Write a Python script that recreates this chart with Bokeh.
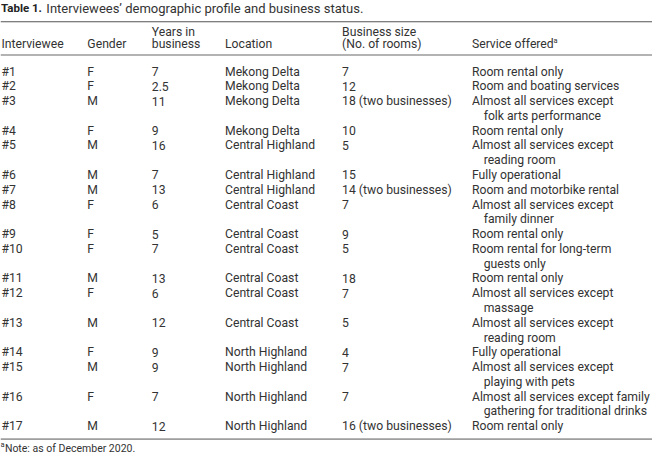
from bokeh.plotting import figure
from bokeh.models import Range1d, ColumnDataSource
from bokeh.embed import file_html
from bokeh.resources import INLINE
from bokeh.core.properties import value

# ---------------- data ----------------
title_bold = "Table 1."
title_rest = "Interviewees’ demographic profile and business status."
headers = [["Interviewee"], ["Gender"], ["Years in", "business"], ["Location"],
           ["Business size", "(No. of rooms)"], ["Service offered"]]
interviewee = ["#1", "#2", "#3", "#4", "#5", "#6", "#7", "#8", "#9", "#10",
               "#11", "#12", "#13", "#14", "#15", "#16", "#17"]
gender = ["F", "F", "M", "F", "M", "M", "M", "F", "F", "F", "M", "F", "M", "F", "M", "F", "M"]
years = ["7", "2.5", "11", "9", "16", "7", "13", "6", "5", "7", "13", "6", "12", "9", "9", "7", "12"]
location = ["Mekong Delta", "Mekong Delta", "Mekong Delta", "Mekong Delta",
            "Central Highland", "Central Highland", "Central Highland",
            "Central Coast", "Central Coast", "Central Coast", "Central Coast",
            "Central Coast", "Central Coast",
            "North Highland", "North Highland", "North Highland", "North Highland"]
size = ["7", "12", "18 (two businesses)", "10", "5", "15", "14 (two businesses)", "7", "9",
        "5", "18", "7", "5", "4", "7", "7", "16 (two businesses)"]
service = [
    ["Room rental only"],
    ["Room and boating services"],
    ["Almost all services except", "folk arts performance"],
    ["Room rental only"],
    ["Almost all services except", "reading room"],
    ["Fully operational"],
    ["Room and motorbike rental"],
    ["Almost all services except", "family dinner"],
    ["Room rental only"],
    ["Room rental for long-term", "guests only"],
    ["Room rental only"],
    ["Almost all services except", "massage"],
    ["Almost all services except", "reading room"],
    ["Fully operational"],
    ["Almost all services except", "playing with pets"],
    ["Almost all services except family", "gathering for traditional drinks"],
    ["Room rental only"],
]
footnote_mark = "a"
note = "Note: as of December 2020."

# ---------------- layout ----------------
W, H = 668, 471
col_x = [1, 89, 155, 230, 350, 483]
indent = 12
first_y = 73.5
pitch = 15.3
FONT = "Roboto"
FS = "12.2px"
COL = "#333333"

p = figure(width=652, height=455, x_range=Range1d(0, W), y_range=Range1d(H, 0),
           output_backend="svg", toolbar_location=None,
           x_axis_location=None, y_axis_location=None, min_border=0)
p.grid.visible = False
p.outline_line_color = None
p.background_fill_color = "white"

# title
p.text(x=[0.5], y=[0.5], text=[title_bold], text_font=value(FONT), text_font_size="11.5px",
       text_font_style="bold", text_color="#222222", text_baseline="top")
p.text(x=[47], y=[0], text=[title_rest], text_font=value(FONT), text_font_size="13px",
       text_color=COL, text_baseline="top")

# rules
p.segment(x0=[0, 0], y0=[22, 454], x1=[W, W], y1=[22, 454], line_color="#555555", line_width=1)
p.segment(x0=[0], y0=[56.5], x1=[W], y1=[56.5], line_color="#9a9a9a", line_width=1.5)

# headers (bottom aligned to second header line)
hx, hy, ht = [], [], []
for cx, lines in zip(col_x, headers):
    n = len(lines)
    for k, t in enumerate(lines):
        hx.append(cx)
        hy.append(45.5 - (n - 1 - k) * 13.2)
        ht.append(t)
p.text(x="x", y="y", text="t", source=ColumnDataSource(dict(x=hx, y=hy, t=ht)),
       text_font=value(FONT), text_font_size=FS, text_color=COL, text_baseline="middle")
p.text(x=[566.5], y=[41.5], text=[footnote_mark], text_font=value(FONT), text_font_size="7.5px",
       text_color=COL, text_baseline="middle")

# body
bx, by, bt = [], [], []
line = 0
for i in range(len(interviewee)):
    y = first_y + line * pitch
    for cx, t in zip(col_x[:5], [interviewee[i], gender[i], years[i], location[i], size[i]]):
        bx.append(cx); by.append(y); bt.append(t)
    for k, t in enumerate(service[i]):
        bx.append(col_x[5] + (indent if k else 0))
        by.append(y + k * pitch)
        bt.append(t)
    line += len(service[i])
p.text(x="x", y="y", text="t", source=ColumnDataSource(dict(x=bx, y=by, t=bt)),
       text_font=value(FONT), text_font_size=FS, text_color=COL, text_baseline="middle")

# footnote
p.text(x=[0], y=[460], text=[footnote_mark], text_font=value(FONT), text_font_size="7.5px",
       text_color=COL, text_baseline="middle")
p.text(x=[4.5], y=[464], text=[note], text_font=value(FONT), text_font_size="10.5px",
       text_color=COL, text_baseline="middle")

open("out.html", "w").write(file_html(p, INLINE))
